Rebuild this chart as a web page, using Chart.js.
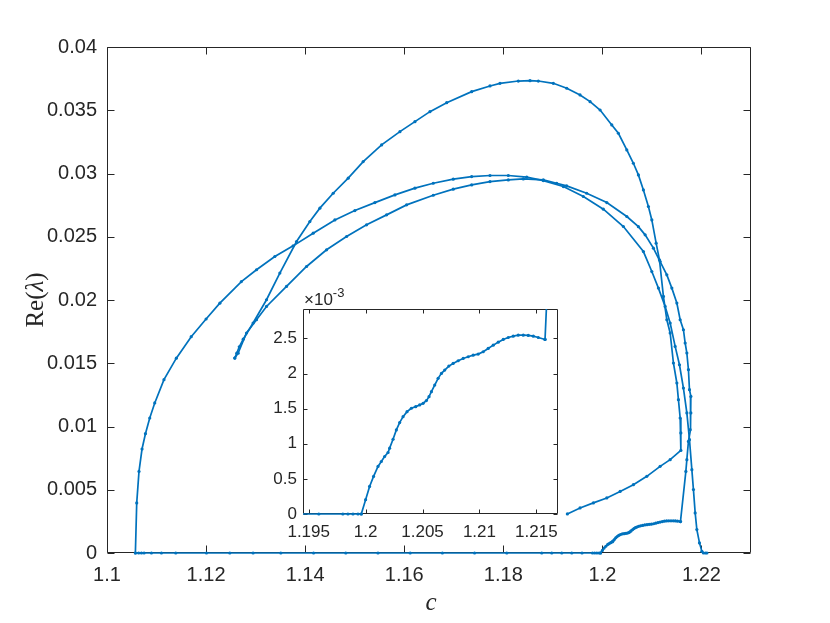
<!DOCTYPE html>
<html>
<head>
<meta charset="utf-8">
<script src="https://cdn.jsdelivr.net/npm/chart.js@4.4.1/dist/chart.umd.min.js"></script>
<style>
html, body { margin: 0; padding: 0; background: #fff; }
#wrap { position: relative; width: 830px; height: 623px; }
#main { position: absolute; left: 0; top: 0; }
#inset { position: absolute; left: 240px; top: 280px; }
</style>
</head>
<body>
<div id="wrap">
  <canvas id="main" width="830" height="623"></canvas>
  <canvas id="inset" width="330" height="270"></canvas>
</div>
<script>
// tick values
var xTicks = [1.1, 1.12, 1.14, 1.16, 1.18, 1.2, 1.22];
var yTicks = [0, 0.005, 0.01, 0.015, 0.02, 0.025, 0.03, 0.035, 0.04];
var insetXTicks = [1.195, 1.2, 1.205, 1.21, 1.215];
var insetYTicks = [0, 0.0005, 0.001, 0.0015, 0.002, 0.0025];

// [c, Re(lambda)] pairs
var zeroLine = [[1.10574,0],[1.1064,0],[1.10695,0],[1.10748,0],[1.10897,0],[1.11099,0],[1.11388,0],[1.12008,0],
  [1.12479,0],[1.12949,0],[1.13509,0],[1.1417,0],[1.1482,0],[1.1547,0],[1.1612,0],[1.1677,0],[1.1742,0],
  [1.1807,0],[1.18776,0],[1.18978,0],[1.1918,0],[1.19382,0],[1.19589,0],[1.198,0],[1.19845,0],[1.19889,0],
  [1.19933,0],[1.19962,0]];

var branchA = [[1.10573,0],[1.106,0.00396],[1.10646,0.00645],[1.10707,0.00822],[1.10776,0.00943],[1.10863,0.01067],
  [1.10964,0.01186],[1.1115,0.0137],[1.114,0.0154],[1.117,0.0171],[1.12,0.0185],[1.12278,0.01975],[1.12713,0.02146],
  [1.13018,0.02239],[1.13388,0.02344],[1.13758,0.02428],[1.14162,0.02528],[1.146,0.02633],[1.15004,0.02707],
  [1.15408,0.0277],[1.15812,0.02831],[1.16216,0.02884],[1.16586,0.02923],[1.1699,0.02955],[1.17361,0.02976],
  [1.17731,0.02984],[1.18101,0.02984],[1.18473,0.02971],[1.18808,0.02944],[1.19212,0.02897],[1.19616,0.02818],
  [1.2002,0.02718],[1.20424,0.02581],[1.20828,0.02383],[1.20998,0.02225],[1.21131,0.02094],[1.21267,0.01949],
  [1.21368,0.01818],[1.21469,0.01633],[1.21556,0.01488],[1.21636,0.01304],[1.21705,0.01107],[1.21758,0.00896],
  [1.21806,0.00659],[1.21838,0.00501],[1.21873,0.00317],[1.21907,0.00185],[1.2196,0.0008],[1.22008,0.00013],
  [1.2204,0],[1.2208,0],[1.2211,0]];

var branchB = [[1.1258,0.01541],[1.1262,0.0158],[1.1267,0.0163],[1.1275,0.0169],[1.12949,0.01818],[1.1322,0.02002],
  [1.13489,0.02213],[1.13826,0.02462],[1.14095,0.0262],[1.14297,0.02726],[1.14566,0.02844],[1.14869,0.02963],
  [1.15172,0.03094],[1.15543,0.03226],[1.15913,0.03331],[1.16216,0.0341],[1.16519,0.03489],[1.16857,0.0356],
  [1.17361,0.03647],[1.17731,0.03692],[1.17933,0.03713],[1.18303,0.03731],[1.18539,0.03734],[1.18707,0.03731],
  [1.1901,0.03713],[1.19281,0.03674],[1.19549,0.03621],[1.19752,0.03568],[1.19954,0.03502],[1.2019,0.03384],
  [1.20323,0.03318],[1.20493,0.03186],[1.20626,0.03081],[1.20727,0.02989],[1.20828,0.0287],[1.20929,0.02739],
  [1.20998,0.02633],[1.21085,0.02449],[1.21152,0.02318],[1.21232,0.02028],[1.21301,0.01844],[1.21368,0.01739],
  [1.21434,0.01502],[1.21503,0.01344],[1.21535,0.01212],[1.2157,0.01067],[1.21584,0.00949],[1.21584,0.00811],
  [1.21368,0.00738],[1.21166,0.00685],[1.20897,0.00606],[1.20626,0.0054],[1.20358,0.00487],[1.20089,0.00435],
  [1.19818,0.00396],[1.19549,0.00356],[1.19293,0.00309]];

var branchC = [[1.1258,0.01541],[1.12647,0.0158],[1.12816,0.01739],[1.13018,0.01844],[1.1322,0.01949],[1.13624,0.02107],
  [1.14028,0.02265],[1.14432,0.02397],[1.14836,0.02502],[1.1524,0.02594],[1.15644,0.02673],[1.16048,0.02752],
  [1.16586,0.02828],[1.1699,0.02876],[1.17361,0.0291],[1.17731,0.02936],[1.18101,0.02949],[1.18404,0.02957],
  [1.18808,0.02949],[1.19077,0.02923],[1.19279,0.02902],[1.19683,0.02844],[1.20089,0.0277],[1.20493,0.0266],
  [1.20727,0.0258],[1.20863,0.02515],[1.2103,0.0241],[1.21166,0.02304],[1.21301,0.02199],[1.21402,0.02094],
  [1.21503,0.01976],[1.2157,0.01844],[1.21636,0.01765],[1.21671,0.0166],[1.21705,0.01581],[1.21737,0.01449],
  [1.21758,0.01291],[1.21786,0.01238],[1.21786,0.01107],[1.21772,0.00975],[1.21737,0.00882],[1.21705,0.00738],
  [1.21685,0.00645],[1.21576,0.002486]];

var insetCurve = [[1.19962,0],[1.2,0.000204],[1.20035,0.000393],[1.2007,0.000535],[1.20109,0.000677],[1.20138,0.000748],
  [1.20167,0.000819],[1.20197,0.000876],[1.20211,0.000938],[1.20241,0.001065],[1.2027,0.001198],[1.20299,0.001302],
  [1.20329,0.001387],[1.20364,0.001458],[1.20402,0.001506],[1.2044,0.001529],[1.20475,0.001553],[1.20505,0.001577],
  [1.20534,0.001615],[1.20557,0.001671],[1.20578,0.001742],[1.20607,0.001837],[1.20637,0.001932],[1.20666,0.002003],
  [1.20695,0.00205],[1.20731,0.002107],[1.20769,0.002145],[1.20813,0.002183],[1.20857,0.002216],[1.20901,0.00224],
  [1.20945,0.002263],[1.20989,0.002278],[1.21033,0.002311],[1.21077,0.002358],[1.21121,0.002405],[1.21165,0.002448],
  [1.21209,0.002486],[1.21253,0.002514],[1.21297,0.002533],[1.21341,0.002547],[1.21385,0.002547],[1.21429,0.002543],
  [1.21473,0.002533],[1.21517,0.002514],[1.21576,0.002486]];

var blue = '#0072BD';
var axisColor = '#262626';
var sans = '"Liberation Sans", Arial, sans-serif';
var serif = '"Liberation Serif", "Times New Roman", serif';

function series(pts, clip) {
  return {
    data: pts.map(function (p) { return { x: p[0], y: p[1] }; }),
    showLine: true,
    borderColor: blue,
    backgroundColor: blue,
    borderWidth: 1.7,
    pointRadius: 1.6,
    pointBorderWidth: 0,
    pointHoverRadius: 0,
    tension: 0,
    clip: clip
  };
}

function fmt(v, n) { return String(parseFloat(v.toFixed(n))); }

// white axes box, outline and inward ticks on all four sides (MATLAB style)
var framePlugin = {
  id: 'frame',
  beforeDraw: function (chart) {
    var a = chart.chartArea, ctx = chart.ctx;
    ctx.save();
    ctx.fillStyle = '#fff';
    ctx.fillRect(a.left, a.top, a.right - a.left, a.bottom - a.top);
    ctx.restore();
  },
  beforeDatasetsDraw: function (chart, args, o) {
    var a = chart.chartArea, ctx = chart.ctx, sx = chart.scales.x, sy = chart.scales.y, L = o.tick;
    var l = Math.round(a.left) + 0.5, r = Math.round(a.right) - 0.5;
    var t = Math.round(a.top) + 0.5, b = Math.round(a.bottom) - 0.5;
    ctx.save();
    ctx.strokeStyle = o.color;
    ctx.lineWidth = 1;
    ctx.beginPath();
    ctx.rect(l, t, r - l, b - t);
    sx.ticks.forEach(function (k) {
      var p = Math.round(sx.getPixelForValue(k.value)) + 0.5;
      ctx.moveTo(p, b); ctx.lineTo(p, b - L);
      ctx.moveTo(p, t); ctx.lineTo(p, t + L);
    });
    sy.ticks.forEach(function (k) {
      var p = Math.round(sy.getPixelForValue(k.value)) + 0.5;
      ctx.moveTo(l, p); ctx.lineTo(l + L, p);
      ctx.moveTo(r, p); ctx.lineTo(r - L, p);
    });
    ctx.stroke();
    ctx.restore();
  }
};

// axis titles of the main plot: italic c, Re(λ) with italic lambda
var titlesPlugin = {
  id: 'titles',
  afterDraw: function (chart) {
    var a = chart.chartArea, ctx = chart.ctx;
    ctx.save();
    ctx.fillStyle = axisColor;
    ctx.textBaseline = 'alphabetic';
    ctx.textAlign = 'left';
    ctx.font = 'italic 25px ' + serif;
    var wc = ctx.measureText('c').width;
    ctx.fillText('c', (a.left + a.right) / 2 - wc / 2 + 2, 610);

    var parts = [['Re(', ''], ['\u03bb', 'italic '], [')', '']];
    var widths = parts.map(function (p) { ctx.font = p[1] + '25px ' + serif; return ctx.measureText(p[0]).width; });
    var total = widths.reduce(function (s, w) { return s + w; }, 0);
    ctx.translate(43, (a.top + a.bottom) / 2);
    ctx.rotate(-Math.PI / 2);
    var x = -total / 2;
    parts.forEach(function (p, i) {
      ctx.font = p[1] + '25px ' + serif;
      ctx.fillText(p[0], x, 0);
      x += widths[i];
    });
    ctx.restore();
  }
};

// ×10^-3 exponent label of the inset y axis
var exponentPlugin = {
  id: 'exponent',
  afterDraw: function (chart) {
    var a = chart.chartArea, ctx = chart.ctx;
    ctx.save();
    ctx.fillStyle = axisColor;
    ctx.textBaseline = 'alphabetic';
    ctx.textAlign = 'left';
    ctx.font = '17px ' + sans;
    var x = a.left + 1, y = a.top - 4;
    ctx.fillText('\u00d710', x, y);
    x += ctx.measureText('\u00d710').width;
    ctx.font = '13px ' + sans;
    ctx.fillText('-3', x, y - 8);
    ctx.restore();
  }
};

function axis(min, max, ticks, fontSize, pad, fixed, isX, decimals, scaleBy) {
  return {
    type: 'linear',
    min: min,
    max: max,
    grid: { display: false, drawTicks: false },
    border: { display: false },
    ticks: {
      color: axisColor,
      font: { family: sans, size: fontSize },
      padding: pad,
      maxRotation: 0,
      autoSkip: false,
      callback: function (v) { return fmt(v * scaleBy, decimals); }
    },
    afterBuildTicks: function (s) { s.ticks = ticks.map(function (v) { return { value: v }; }); },
    afterFit: function (s) { if (isX) { s.height = fixed; } else { s.width = fixed; } }
  };
}

new Chart(document.getElementById('main'), {
  type: 'scatter',
  data: { datasets: [series(zeroLine, 4), series(insetCurve, 4), series(branchA, 4), series(branchB, 4), series(branchC, 4)] },
  options: {
    responsive: false,
    animation: false,
    events: [],
    layout: { padding: { top: 47, right: 79, left: 0, bottom: 0 } },
    scales: {
      x: axis(1.1, 1.23, xTicks, 20, 10, 70, true, 3, 1),
      y: axis(0, 0.04, yTicks, 20, 10, 107, false, 4, 1)
    },
    plugins: { legend: { display: false }, tooltip: { enabled: false }, frame: { tick: 7, color: axisColor } }
  },
  plugins: [framePlugin, titlesPlugin]
});

new Chart(document.getElementById('inset'), {
  type: 'scatter',
  data: { datasets: [series(zeroLine, { left: 0, right: 0, top: 0, bottom: 2 }), series(insetCurve, { left: 0, right: 0, top: 0, bottom: 2 }), series(branchC, { left: 0, right: 0, top: 0, bottom: 2 })] },
  options: {
    responsive: false,
    animation: false,
    events: [],
    layout: { padding: { top: 29, right: 12, left: 0, bottom: 0 } },
    scales: {
      x: axis(1.1945, 1.2169, insetXTicks, 17, 8, 36, true, 3, 1),
      y: axis(0, 0.00292, insetYTicks, 17, 6, 63, false, 1, 1000)
    },
    plugins: { legend: { display: false }, tooltip: { enabled: false }, frame: { tick: 4, color: axisColor } }
  },
  plugins: [framePlugin, exponentPlugin]
});
</script>
</body>
</html>
